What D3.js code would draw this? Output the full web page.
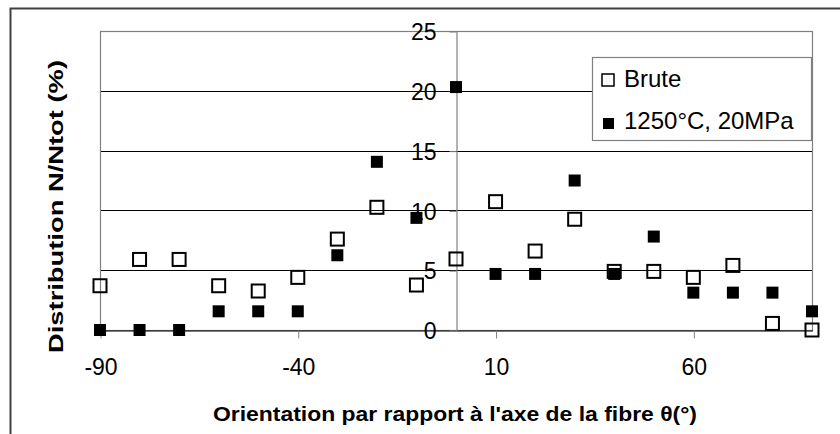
<!DOCTYPE html>
<html>
<head>
<meta charset="utf-8">
<script src="https://cdn.jsdelivr.net/npm/d3@7"></script>
<style>
  html, body { margin: 0; padding: 0; background: #fff; }
  svg { display: block; font-family: "Liberation Sans", Arial, sans-serif; }
</style>
</head>
<body>
<svg id="chart" width="840" height="434"></svg>
<script>
// Orientation angles (degrees) and the two measured distributions (%)
const angles = [-90, -80, -70, -60, -50, -40, -30, -20, -10, 0, 10, 20, 30, 40, 50, 60, 70, 80, 90];
const brute = [3.7, 5.9, 5.9, 3.7, 3.26, 4.4, 7.6, 10.26, 3.76, 5.94, 10.73, 6.6, 9.26, 4.9, 4.9, 4.4, 5.4, 0.55, 0];
const treated = [0, 0, 0, 1.5625, 1.5625, 1.5625, 6.25, 14.0625, 9.375, 20.3125, 4.6875, 4.6875, 12.5, 4.6875, 7.8125, 3.125, 3.125, 3.125, 1.5625];
const seriesNames = ["Brute", "1250°C, 20MPa"];
const xTicks = [-90, -40, 10, 60];
const yTicks = [0, 5, 10, 15, 20, 25];
const xTitle = "Orientation par rapport à l'axe de la fibre θ(°)";
const yTitle = "Distribution N/Ntot (%)";

const svg = d3.select("#chart");

const plot = { left: 100, right: 812, top: 31, bottom: 330 };
const x = d3.scaleLinear().domain([-90, 90]).range([plot.left, plot.right]);
const y = d3.scaleLinear().domain([0, 25]).range([plot.bottom, plot.top]);

// outer chart frame
svg.append("rect")
  .attr("x", 10.5).attr("y", 8.5)
  .attr("width", 860).attr("height", 460)
  .attr("fill", "none").attr("stroke", "#404040").attr("stroke-width", 2);

// horizontal gridlines
svg.append("g")
  .selectAll("line")
  .data(yTicks.filter(v => v > 0 && v < 25))
  .join("line")
  .attr("x1", plot.left).attr("x2", plot.right)
  .attr("y1", d => Math.round(y(d)) + 0.5).attr("y2", d => Math.round(y(d)) + 0.5)
  .attr("stroke", "#000").attr("stroke-width", 1);

// plot area border
svg.append("rect")
  .attr("x", plot.left + 0.5).attr("y", plot.top + 0.5)
  .attr("width", plot.right - plot.left).attr("height", plot.bottom - plot.top)
  .attr("fill", "none").attr("stroke", "#808080").attr("stroke-width", 1.2);

// plain hyphen for negative tick values
const plainNumber = d => String(d);

// x axis along y = 0
const xAxis = svg.append("g")
  .attr("transform", `translate(0.5,${Math.round(y(0)) + 0.5})`)
  .call(d3.axisBottom(x).tickValues(xTicks).tickSize(8).tickSizeOuter(0).tickFormat(plainNumber));
xAxis.select(".domain").attr("stroke", "#000").attr("stroke-width", 1.2);
xAxis.selectAll(".tick line").attr("stroke", "#808080");
xAxis.selectAll(".tick text")
  .attr("y", 44).attr("dy", 0)
  .attr("fill", "#000")
  .style("font-size", "23px")
  .style("font-family", "'Liberation Sans', Arial, sans-serif");

// y axis crossing at x = 0
const yAxis = svg.append("g")
  .attr("transform", `translate(${Math.round(x(0)) + 0.5},0.5)`)
  .call(d3.axisLeft(y).tickValues(yTicks).tickSize(7).tickPadding(13).tickSizeOuter(0).tickFormat(plainNumber));
yAxis.select(".domain").attr("stroke", "#808080").attr("stroke-width", 1.2);
yAxis.selectAll(".tick line").attr("stroke", "#808080");
yAxis.selectAll(".tick text")
  .attr("dy", "0.36em")
  .attr("fill", "#000")
  .style("font-size", "23px")
  .style("font-family", "'Liberation Sans', Arial, sans-serif");

// hollow squares: Brute
const hs = 13;
svg.append("g")
  .selectAll("rect")
  .data(angles.map((a, i) => [a, brute[i]]))
  .join("rect")
  .attr("x", d => x(d[0]) - hs / 2)
  .attr("y", d => y(d[1]) - hs / 2)
  .attr("width", hs).attr("height", hs)
  .attr("fill", "none").attr("stroke", "#000").attr("stroke-width", 2);

// filled squares: 1250°C, 20MPa
const fs = 12;
svg.append("g")
  .selectAll("rect")
  .data(angles.map((a, i) => [a, treated[i]]))
  .join("rect")
  .attr("x", d => x(d[0]) - fs / 2)
  .attr("y", d => y(d[1]) - fs / 2)
  .attr("width", fs).attr("height", fs)
  .attr("fill", "#000");

// legend
const lg = svg.append("g");
lg.append("rect")
  .attr("x", 592.5).attr("y", 57.5).attr("width", 219).attr("height", 83)
  .attr("fill", "#fff").attr("stroke", "#808080").attr("stroke-width", 1.2);
lg.append("rect")
  .attr("x", 602).attr("y", 74).attr("width", 12).attr("height", 12)
  .attr("fill", "none").attr("stroke", "#000").attr("stroke-width", 1.5);
lg.append("rect")
  .attr("x", 603).attr("y", 118).attr("width", 11).attr("height", 11)
  .attr("fill", "#000");
lg.selectAll("text")
  .data(seriesNames)
  .join("text")
  .attr("x", 624)
  .attr("y", (d, i) => i === 0 ? 87 : 129)
  .style("font-size", "24px")
  .attr("fill", "#000")
  .text(d => d);

// axis titles
svg.append("text")
  .attr("x", 455).attr("y", 421)
  .attr("text-anchor", "middle")
  .attr("textLength", 484).attr("lengthAdjust", "spacingAndGlyphs")
  .style("font-size", "21px").style("font-weight", "bold")
  .attr("fill", "#000")
  .text(xTitle);

svg.append("text")
  .attr("transform", "translate(62.5,206.5) rotate(-90)")
  .attr("text-anchor", "middle")
  .attr("textLength", 293).attr("lengthAdjust", "spacingAndGlyphs")
  .style("font-size", "21px").style("font-weight", "bold")
  .attr("fill", "#000")
  .text(yTitle);
</script>
</body>
</html>
